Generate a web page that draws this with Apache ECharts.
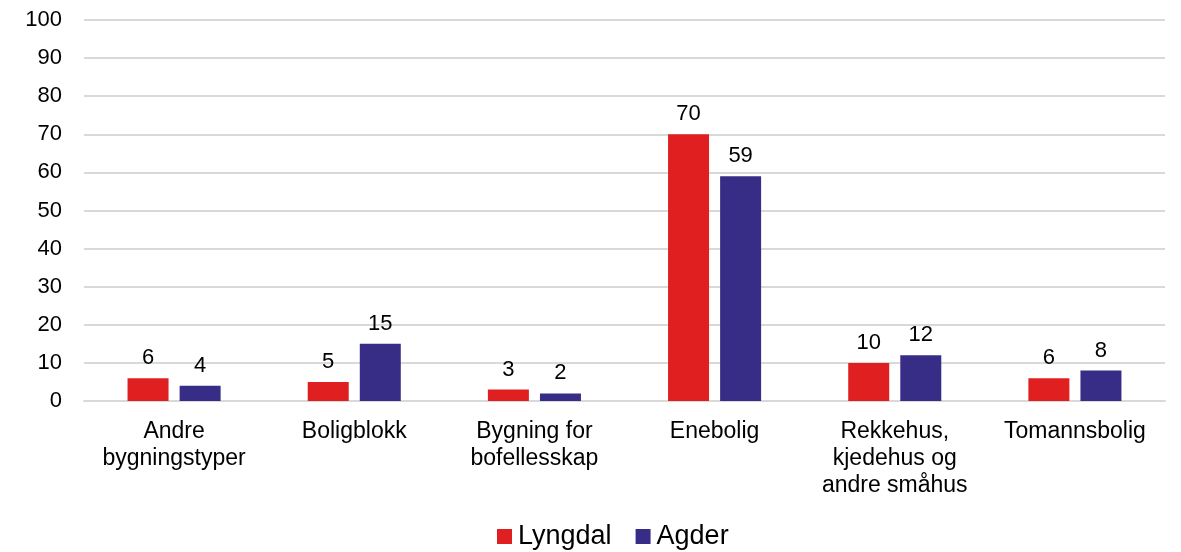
<!DOCTYPE html>
<html><head><meta charset="utf-8">
<script src="https://cdn.jsdelivr.net/npm/echarts@6/dist/echarts.min.js"></script>
<style>html,body{margin:0;padding:0;background:#fff}#c{width:1181px;height:552px}</style>
</head><body><div id="c"></div>
<script>
const categories = ['Andre\nbygningstyper','Boligblokk','Bygning for\nbofellesskap','Enebolig','Rekkehus,\nkjedehus og\nandre småhus','Tomannsbolig'];
const lyngdal = [6,5,3,70,10,6];
const agder = [4,15,2,59,12,8];
const yTicks = {min:0,max:100,interval:10};
const font = 'Liberation Sans, Arial, sans-serif';
const chart = echarts.init(document.getElementById('c'));
const lbl = {show:true,position:'top',distance:9,color:'#000',fontSize:22,fontFamily:font};
chart.setOption({
  animation:false,
  grid:{left:84,right:16,top:20,bottom:151},
  legend:{top:518,left:492,padding:5,itemWidth:15,itemHeight:15,itemGap:24,icon:'rect',
    textStyle:{fontSize:27,fontFamily:font,color:'#000',padding:[0,0,0,1]},
    data:['Lyngdal','Agder']},
  xAxis:{type:'category',data:categories,axisTick:{show:false},
    axisLine:{lineStyle:{color:'#d9d9d9',width:2}},
    axisLabel:{color:'#000',fontSize:23,fontFamily:font,lineHeight:27,margin:17,interval:0}},
  yAxis:{type:'value',min:yTicks.min,max:yTicks.max,interval:yTicks.interval,
    axisLabel:{color:'#000',fontSize:22,fontFamily:font,margin:22},
    splitLine:{lineStyle:{color:'#d9d9d9',width:2}},axisLine:{show:false},axisTick:{show:false}},
  series:[
    {name:'Lyngdal',type:'bar',data:lyngdal,barWidth:41,barGap:'27%',itemStyle:{color:'#e02020'},label:lbl},
    {name:'Agder',type:'bar',data:agder,barWidth:41,itemStyle:{color:'#372d87'},label:lbl}
  ]
});
</script></body></html>
